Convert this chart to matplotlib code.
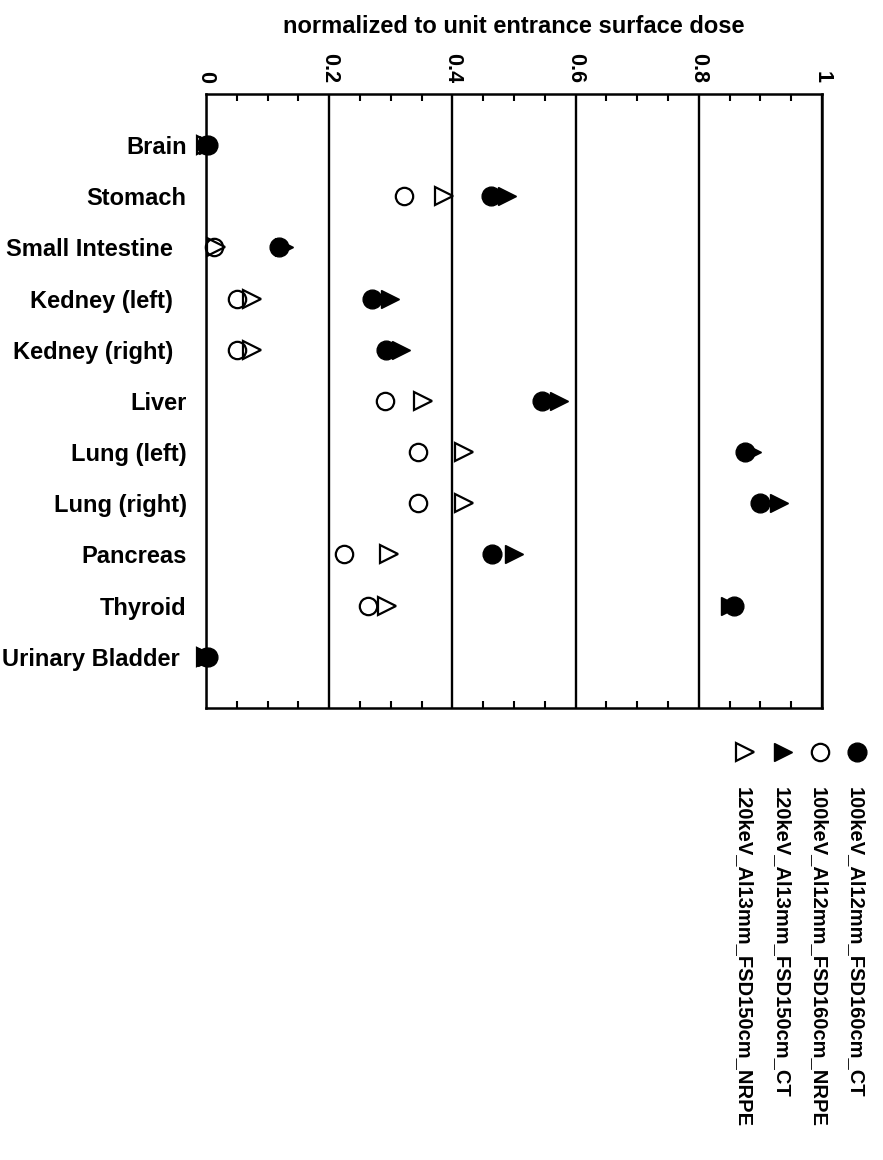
import matplotlib.pyplot as plt
import numpy as np

plt.rcParams['font.family'] = ['Liberation Sans', 'DejaVu Sans']
plt.rcParams['font.weight'] = 'bold'

# organ names (trailing spaces keep the ragged right edge of the original)
organs = ['Brain', 'Stomach', 'Small Intestine  ', 'Kedney (left)  ', 'Kedney (right)  ',
          'Liver', 'Lung (left)', 'Lung (right)', 'Pancreas', 'Thyroid', 'Urinary Bladder ']

# dose values
ct_100 = [0.004, 0.462, 0.118, 0.270, 0.292, 0.545, 0.875, 0.899, 0.464, 0.857, 0.003]
nrpe_100 = [0.0, 0.321, 0.013, 0.051, 0.051, 0.290, 0.344, 0.344, 0.224, 0.263, 0.0]
ct_120 = [0.003, 0.489, 0.126, 0.298, 0.317, 0.573, 0.887, 0.931, 0.500, 0.850, 0.001]
nrpe_120 = [0.0, 0.386, 0.017, 0.074, 0.074, 0.352, 0.419, 0.419, 0.297, 0.294, 0.0]

names = ['100keV_Al12mm_FSD160cm_CT', '100keV_Al12mm_FSD160cm_NRPE',
         '120keV_Al13mm_FSD150cm_CT', '120keV_Al13mm_FSD150cm_NRPE']

xticks = [0, 0.2, 0.4, 0.6, 0.8, 1]
xtick_labels = ['0', '0.2', '0.4', '0.6', '0.8', '1']

fig = plt.figure(figsize=(8.83, 11.6), dpi=100)
ax = fig.add_axes([0.2333, 0.3897, 0.6976, 0.5293])

pos = np.arange(1, len(organs) + 1)

# marker styles: (marker, size, filled)
styles = {
    names[0]: ('o', 13.5, True),
    names[1]: ('o', 12.5, False),
    names[2]: ('>', 12.5, True),
    names[3]: ('>', 12.5, False),
}

def mstyle(name):
    m, s, filled = styles[name]
    if filled:
        return dict(marker=m, ms=s, color='k', mec='k')
    return dict(marker=m, ms=s, mfc='none', mec='k', mew=1.6)

# draw from back to front, filled circle on top
ax.plot(nrpe_120, pos, ls='none', clip_on=False, zorder=3, **mstyle(names[3]))
ax.plot(ct_120, pos, ls='none', clip_on=False, zorder=4, **mstyle(names[2]))
ax.plot(nrpe_100, pos, ls='none', clip_on=False, zorder=5, **mstyle(names[1]))
ax.plot(ct_100, pos, ls='none', clip_on=False, zorder=6, **mstyle(names[0]))

ax.set_xlim(0, 1)
ax.set_ylim(len(organs) + 1, 0)

ax.xaxis.tick_top()
ax.xaxis.set_label_position('top')
ax.set_xticks(xticks, labels=xtick_labels, rotation=-90)
ax.set_xticks(np.arange(0.05, 1, 0.05), minor=True)
ax.tick_params(axis='x', which='major', length=0, pad=8, labelsize=15.5)
ax.tick_params(axis='x', which='minor', direction='in', length=5, width=1.5,
               top=True, bottom=True)
ax.grid(axis='x', which='major', color='k', lw=1.7)
ax.set_axisbelow(True)

ax.set_yticks(pos, labels=organs)
ax.set_yticks(pos[1:-1:2], minor=True)
ax.tick_params(axis='y', which='major', length=0, pad=14, labelsize=17)
ax.tick_params(axis='y', which='minor', direction='in', length=10, width=1.5,
               left=True, right=True)

for sp in ax.spines.values():
    sp.set_linewidth(1.8)

ax.set_xlabel('normalized to unit entrance surface dose', fontsize=17,
              fontweight='bold', labelpad=14)

# hand made legend, rotated text
leg_x = [0.9706, 0.9287, 0.8867, 0.8437]
for name, lx in zip(names, leg_x):
    fig.add_artist(plt.Line2D([lx], [0.3517], transform=fig.transFigure,
                              ls='none', **mstyle(name)))
    fig.text(lx - 0.002, 0.3216, name, rotation=-90, ha='center', va='top',
             fontsize=14.5, fontweight='bold')

fig.savefig('out.png', dpi=100)
